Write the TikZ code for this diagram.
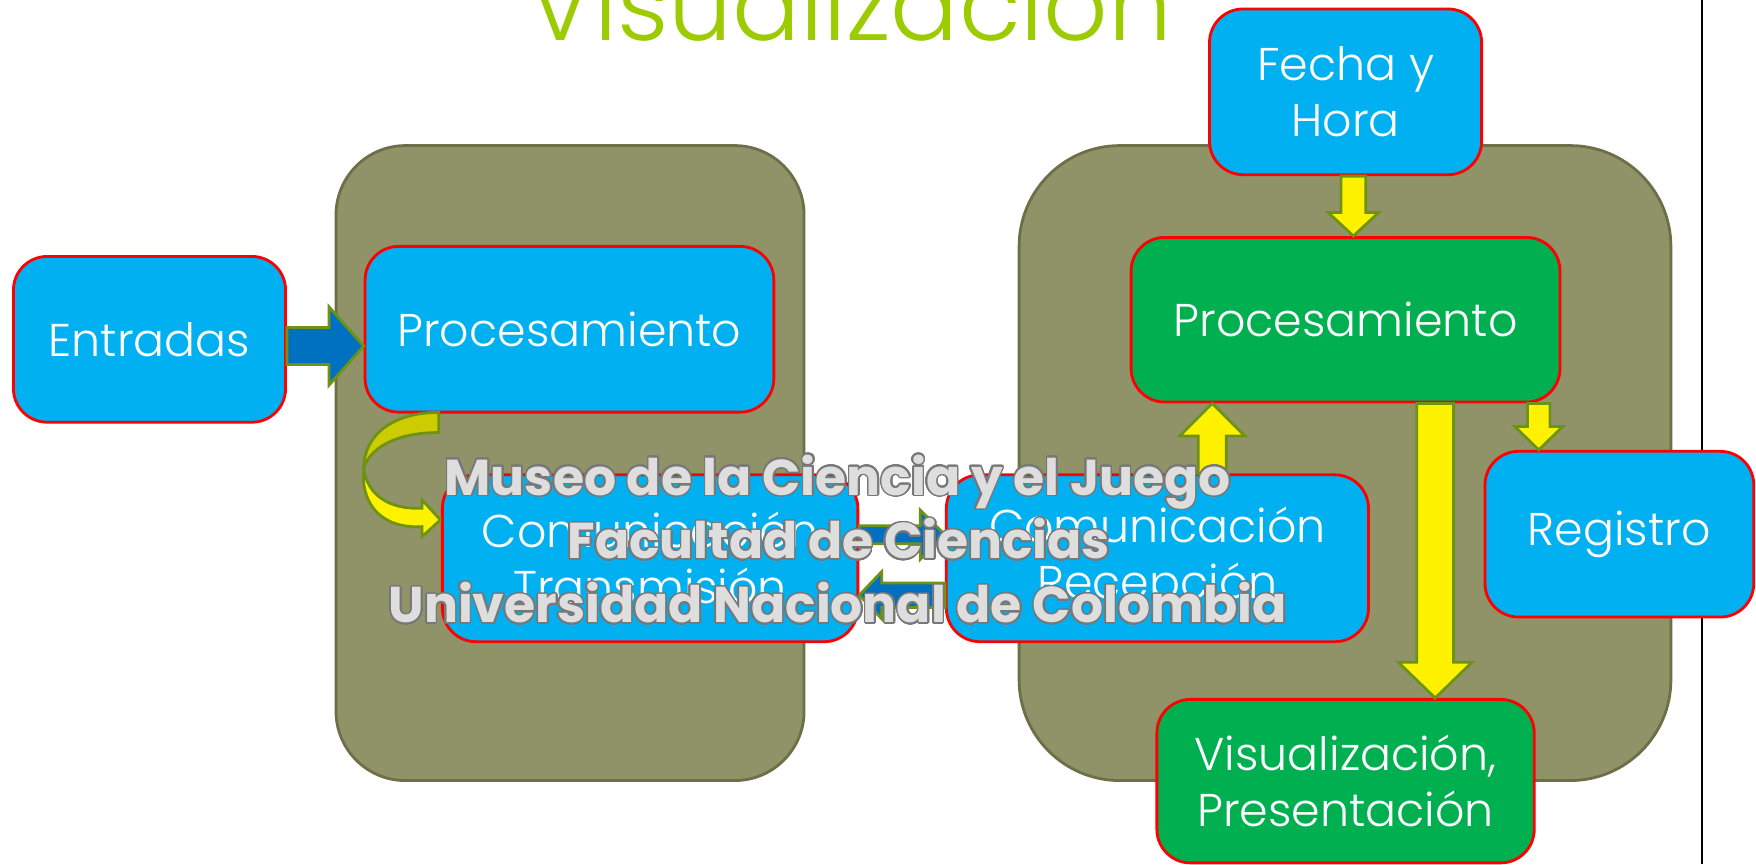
\documentclass[tikz,border=0pt]{standalone}
\usepackage{fontspec}
\setmainfont{Poppins Light}
\newfontfamily\wmfont{Poppins Bold}
\usepackage{contour}
\usetikzlibrary{calc, positioning}

\definecolor{boxblue}{HTML}{00B0F0}
\definecolor{boxgreen}{HTML}{00B050}
\definecolor{olivebg}{RGB}{144,146,104}
\definecolor{olivedark}{RGB}{108,111,72}
\definecolor{arrowedge}{RGB}{110,146,20}
\definecolor{arrowblue}{HTML}{0070C0}
\definecolor{curvedark}{RGB}{204,204,0}
\definecolor{titlegreen}{RGB}{155,203,0}
\definecolor{wmfill}{RGB}{222,222,222}
\definecolor{wmedge}{RGB}{120,120,120}

\contourlength{1.4pt}
\contournumber{24}
\newcommand{\wmtext}[1]{\contour{wmedge}{\color{wmfill}#1}}

% block arrows: style, from, to, half shaft, half head, head length
\newcommand{\varrow}[6]{\draw[#1] let \p1=#2, \p2=#3, \n1={ifthenelse(\y2<\y1,1,-1)} in
  ({\x1-#4pt},\y1) -- ({\x1-#4pt},{\y2+\n1*#6pt}) -- ({\x1-#5pt},{\y2+\n1*#6pt}) -- (\x1,\y2)
  -- ({\x1+#5pt},{\y2+\n1*#6pt}) -- ({\x1+#4pt},{\y2+\n1*#6pt}) -- ({\x1+#4pt},\y1) -- cycle;}
\newcommand{\harrow}[6]{\draw[#1] let \p1=#2, \p2=#3, \n1={ifthenelse(\x2>\x1,-1,1)} in
  (\x1,{\y1-#4pt}) -- ({\x2+\n1*#6pt},{\y1-#4pt}) -- ({\x2+\n1*#6pt},{\y1-#5pt}) -- (\x2,\y1)
  -- ({\x2+\n1*#6pt},{\y1+#5pt}) -- ({\x2+\n1*#6pt},{\y1+#4pt}) -- (\x1,{\y1+#4pt}) -- cycle;}

\begin{document}
\begin{tikzpicture}[x=1pt, y=-1pt,
  holder/.style={draw=olivedark, fill=olivebg, line width=2.5pt},
  bbox/.style={draw=red, fill=boxblue, line width=2.5pt, rounded corners=30pt, text=white,
    align=center, inner sep=0pt, font=\fontsize{41}{50}\selectfont},
  gbox/.style={bbox, fill=boxgreen},
  barrow/.style={draw=arrowedge, fill=arrowblue, line width=2.5pt, line join=miter},
  yarrow/.style={draw=arrowedge, fill=yellow, line width=2.5pt, line join=miter},
  wmark/.style={anchor=base, inner sep=0pt, font=\wmfont\fontsize{45}{45}\selectfont}]
\useasboundingbox (0,0) rectangle (1568,771.5);

% title and separator
\node[anchor=base, inner sep=0pt, text=titlegreen, font=\fontsize{90}{90}\selectfont] (title) at (759,36) {Visualización};
\draw[line width=2pt] (1520,0) -- (1520,771.5);

% the two stations
\draw[holder, rounded corners=62pt] (300,130) rectangle (718,697);
\draw[holder, rounded corners=90pt] (910,130) rectangle (1492,697);

\node[bbox, minimum width=243pt, minimum height=148pt] (ent) at (133.5,303) {Entradas};
\node[bbox, minimum width=365pt, minimum height=148pt] (proc1) at (508.5,294) {Procesamiento};
\node[bbox, minimum width=371pt, minimum height=149pt] (trans) at (580.5,498.5) {Comunicación\\Transmisión};
\node[bbox, minimum width=377pt, minimum height=149pt] (recep) at (1033.5,498.5) {Comunicación\\Recepción};
\node[bbox, minimum width=243pt, minimum height=148pt] (fecha) at (1201.5,82) {Fecha y\\Hora};
\node[gbox, minimum width=383pt, minimum height=147pt] (proc2) at (1201.5,285.5) {Procesamiento};
\node[bbox, minimum width=240pt, minimum height=148pt] (reg) at (1446,477) {Registro};
\node[gbox, minimum width=337pt, minimum height=146pt] (visual) at (1201.5,697.5) {Visualización,\\Presentación};

% arrows
\harrow{barrow}{($(ent.east)+(0,6)$)}{(proc1.west)}{16.5}{35}{31}
\harrow{barrow}{($(trans.east)+(0,-21)$)}{(recep.west)}{8}{22}{22}
\harrow{barrow}{($(recep.west)+(0,33)$)}{(trans.east)}{11}{21}{20}
\varrow{yarrow}{($(fecha.south)+(7,0)$)}{(proc2.north)}{11}{22.5}{21}
\varrow{yarrow}{($(recep.north)+(49,0)$)}{(proc2.south)}{12.5}{29}{29}
\varrow{yarrow}{($(proc2.south)+(80,0)$)}{(visual.north)}{16.5}{33}{32}
\varrow{yarrow}{($(proc2.south)+(172.5,0)$)}{(reg.north)}{10}{21.5}{21}

% curved arrow proc1 -> trans
\coordinate (ctail) at ($(proc1.south west)+(67,0)$);
\begin{scope}[shift={(ctail)}]
\draw[draw=arrowedge, fill=curvedark, line width=2.5pt, line join=miter]
  (0,-1) .. controls (-42,-1) and (-67,20) .. (-67,49) .. controls (-62,32) and (-40,17) .. (0,17) -- cycle;
\draw[draw=arrowedge, fill=yellow, line width=2.5pt, line join=miter]
  (-67,49) .. controls (-64,72) and (-45,86) .. (-15,84.5) -- (-15,77) -- (1.5,95) -- (-15,110) -- (-15,101)
  .. controls (-52,103) and (-70,80) .. (-67,49) -- cycle;
\end{scope}

% watermark
\node[wmark] (wm1) at (748,442) {\wmtext{Museo de la Ciencia y el Juego}};
\node[wmark] (wm2) at (749,499) {\wmtext{Facultad de Ciencias}};
\node[wmark] (wm3) at (748,556) {\wmtext{Universidad Nacional de Colombia}};
\end{tikzpicture}
\end{document}
